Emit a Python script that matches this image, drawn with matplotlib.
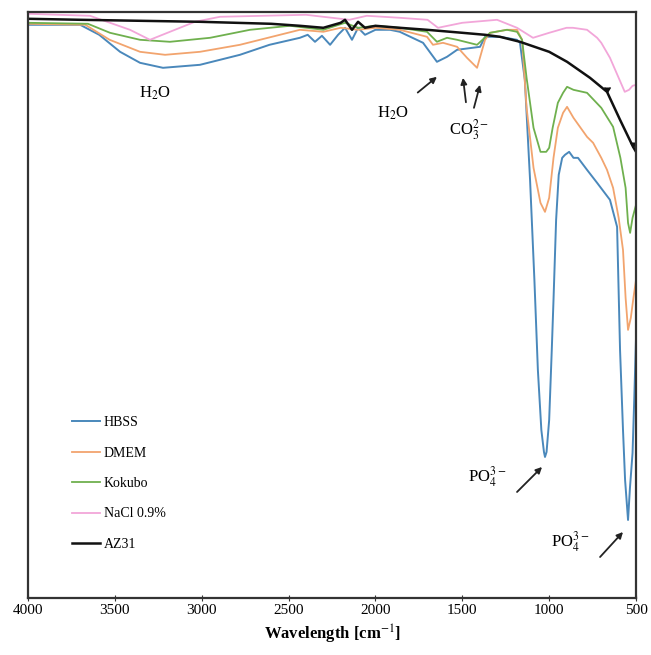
import matplotlib
matplotlib.use("Agg")
import matplotlib.pyplot as plt

plt.rcParams["font.family"] = ["Liberation Serif", "DejaVu Serif"]
plt.rcParams["mathtext.fontset"] = "stix"

# FTIR spectra, transmittance in arbitrary units (no y scale on the original)
hbss_wn = [4000, 3700, 3590, 3470, 3355, 3223, 3010, 2780, 2610, 2435, 2390, 2348,
           2308, 2261, 2215, 2175, 2135, 2100, 2060, 2000, 1916, 1860, 1726, 1646,
           1588, 1530, 1398, 1369, 1283, 1185, 1168, 1140, 1110, 1085, 1065, 1045,
           1030, 1024, 1015, 1000, 985, 975, 960, 945, 925, 909, 885, 860, 834, 782,
           724, 650, 609, 592, 575, 563, 546, 535, 520, 510, 500]
hbss_t = [573, 573, 563, 546, 535, 530, 533, 543, 553, 560, 563, 556,
          562, 553, 563, 570, 558, 570, 563, 568, 568, 566, 555, 536,
          541, 548, 551, 561, 561, 558, 555, 518, 418, 318, 228, 168,
          146, 141, 146, 178, 248, 298, 378, 423, 440, 443, 446, 440, 440, 428,
          415, 398, 371, 248, 168, 118, 78, 110, 145, 200, 260]

dmem_wn = [4000, 3670, 3530, 3355, 3211, 3010, 2780, 2550, 2435, 2300, 2200, 2100,
           2000, 1860, 1703, 1669, 1611, 1530, 1473, 1415, 1369, 1340, 1243, 1185,
           1156, 1130, 1090, 1050, 1024, 1000, 975, 950, 920, 897, 860, 782, 747,
           700, 667, 632, 600, 575, 560, 546, 530, 515, 500]
dmem_t = [574, 573, 558, 546, 543, 546, 553, 563, 568, 566, 570, 568,
          570, 568, 561, 553, 555, 551, 540, 530, 558, 565, 568, 568,
          558, 490, 430, 395, 386, 400, 440, 470, 485, 491, 480, 461, 455,
          440, 428, 410, 380, 348, 300, 268, 280, 300, 318]

kokubo_wn = [4000, 3655, 3528, 3355, 3183, 2952, 2722, 2492, 2300, 2175, 2100,
             2000, 1860, 1703, 1646, 1588, 1530, 1415, 1340, 1243, 1185, 1156,
             1130, 1090, 1050, 1017, 1000, 980, 950, 920, 897, 860, 782, 700,
             632, 590, 560, 546, 534, 520, 500]
kokubo_t = [575, 574, 565, 558, 556, 560, 568, 572, 568, 575, 570,
            572, 570, 566, 556, 560, 558, 553, 565, 568, 566, 558,
            520, 470, 446, 446, 450, 470, 495, 505, 511, 508, 505, 490,
            471, 440, 410, 375, 365, 380, 393]

nacl_wn = [4000, 3643, 3413, 3298, 3183, 3039, 2895, 2400, 2150, 2050, 1860,
           1700, 1640, 1500, 1300, 1185, 1093, 1000, 900, 863, 782, 724, 700,
           650, 600, 565, 540, 520, 500]
nacl_t = [584, 582, 568, 558, 566, 576, 581, 583, 578, 582, 580,
          578, 570, 575, 578, 570, 560, 565, 570, 570, 568, 560, 555,
          540, 520, 506, 508, 512, 513]

az31_wn = [4000, 3700, 3010, 2600, 2435, 2300, 2200, 2175, 2135, 2100, 2060,
           2000, 1860, 1703, 1500, 1369, 1283, 1168, 1000, 897, 765, 667, 592,
           517, 500]
az31_t = [579, 578, 576, 574, 572, 570, 575, 578, 568, 576, 570,
          572, 570, 568, 565, 563, 561, 556, 546, 536, 520, 506, 478,
          451, 446]

series = [
    ("HBSS", hbss_wn, hbss_t, "#4a88bb", 1.4),
    ("DMEM", dmem_wn, dmem_t, "#f2a46e", 1.3),
    ("Kokubo", kokubo_wn, kokubo_t, "#6fb04e", 1.3),
    ("NaCl 0.9%", nacl_wn, nacl_t, "#f2a6d9", 1.3),
    ("AZ31", az31_wn, az31_t, "#111111", 1.8),
]

fig = plt.figure(figsize=(6.51, 6.55), dpi=100)
ax = fig.add_axes([0.043, 0.087, 0.934, 0.895])

for name, wn, t, color, lw in series:
    ax.plot(wn, t, color=color, lw=lw, label=name)

# small down-pointing marks on the AZ31 curve
ax.plot(az31_wn, az31_t, ls="none", color="#111111", marker=7, markersize=5,
        markevery=[21, 23])

ax.set_xlim(4000, 500)
ax.set_ylim(0, 586)
ax.set_xticks([4000, 3500, 3000, 2500, 2000, 1500, 1000, 500])
ax.set_yticks([])
ax.tick_params(axis="x", direction="inout", length=5, labelsize=11, pad=2, color="#333333")
for sp in ax.spines.values():
    sp.set_linewidth(1.6)
    sp.set_color("#333333")
ax.set_xlabel("Wavelength [cm$^{-1}$]", fontsize=12, fontweight="bold", labelpad=4)

ax.legend(loc="upper left", bbox_to_anchor=(0.072, 0.31), frameon=False,
          fontsize=10, handlelength=2.0, handletextpad=0.3, labelspacing=1.25,
          borderaxespad=0, borderpad=0)

arrow = dict(arrowstyle="-|>", color="#222222", lw=1.3, mutation_scale=9)
ax.text(3269, 505, "H$_2$O", fontsize=12, ha="center", va="center")
ax.annotate("H$_2$O", xy=(1646, 521), xytext=(1899, 485), fontsize=12,
            ha="center", va="center", arrowprops=dict(arrow, shrinkA=10, shrinkB=0))
ax.annotate("CO$_3^{2-}$", xy=(1496, 520), xytext=(1460, 468), fontsize=12,
            ha="center", va="center", arrowprops=dict(arrow, shrinkA=9, shrinkB=0))
ax.annotate("", xy=(1398, 513), xytext=(1433, 490), arrowprops=dict(arrow, shrinkA=0, shrinkB=0))
ax.text(1358, 121, "PO$_4^{3-}$", fontsize=12, ha="center", va="center")
ax.annotate("", xy=(1041, 131), xytext=(1185, 106), arrowprops=dict(arrow, shrinkA=0, shrinkB=0))
ax.text(880, 56, "PO$_4^{3-}$", fontsize=12, ha="center", va="center")
ax.annotate("", xy=(575, 66), xytext=(707, 41), arrowprops=dict(arrow, shrinkA=0, shrinkB=0))

fig.savefig("out.png", dpi=100)
